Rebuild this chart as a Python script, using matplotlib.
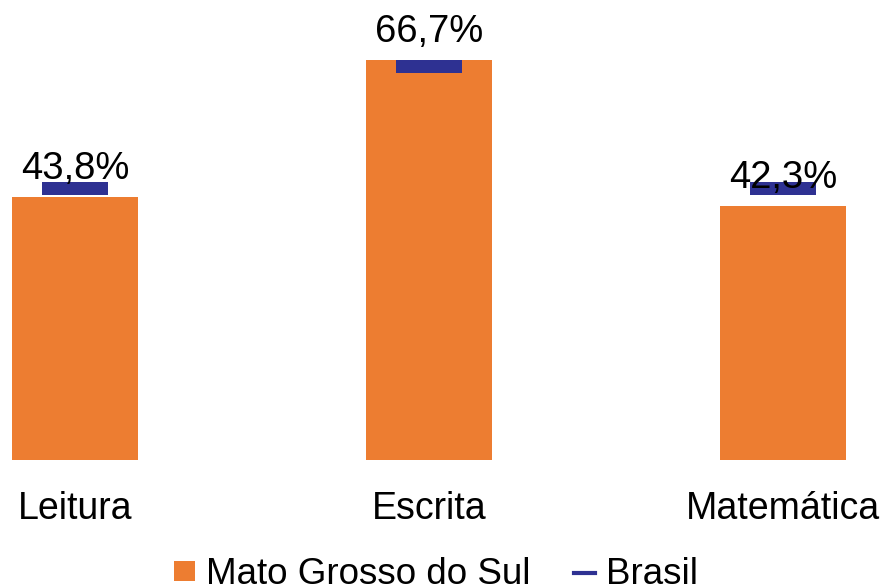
import matplotlib
matplotlib.use("Agg")
import matplotlib.pyplot as plt
from matplotlib.lines import Line2D
from matplotlib.patches import Patch

plt.rcParams['font.family'] = ['Liberation Sans', 'DejaVu Sans']

# data
categorias = ['Leitura', 'Escrita', 'Matemática']
ms = [43.8, 66.7, 42.3]
brasil = [45.2, 65.6, 45.2]
rotulos = ['43,8%', '66,7%', '42,3%']

laranja = '#ED7D31'
azul = '#2E3192'

fig = plt.figure(figsize=(8.84, 5.85), dpi=100)
ax = fig.add_axes([0, 125/585, 1, 460/585])

x = list(range(len(categorias)))
ax.bar(x, ms, width=0.356, color=laranja, zorder=2)
# Brasil as a thick short mark
ax.bar(x, [2.2]*3, bottom=[b - 1.1 for b in brasil], width=0.186, color=azul, zorder=3)

for xi, v, r in zip(x, ms, rotulos):
    ax.annotate(r, (xi, v), xytext=(0, 13), textcoords='offset points',
                ha='center', va='baseline', fontsize=27.5, zorder=4)

ax.set_xlim(-75/354, (884-75)/354)
ax.set_ylim(0, 460/6)
ax.set_xticks(x)
ax.set_xticklabels(categorias, fontsize=27)
ax.tick_params(axis='x', length=0, pad=22)
ax.set_yticks([])
for s in ax.spines.values():
    s.set_visible(False)

handles = [Patch(facecolor=laranja, edgecolor='none'),
           Line2D([0], [0], color=azul, lw=3)]
fig.legend(handles, ['Mato Grosso do Sul', 'Brasil'], loc='center',
           bbox_to_anchor=(436/884, 10/585), ncol=2, frameon=False,
           fontsize=26.5, handlelength=0.55, handleheight=0.46, handletextpad=0.3,
           columnspacing=1.2, borderpad=0)

fig.savefig('out.png', dpi=100)
